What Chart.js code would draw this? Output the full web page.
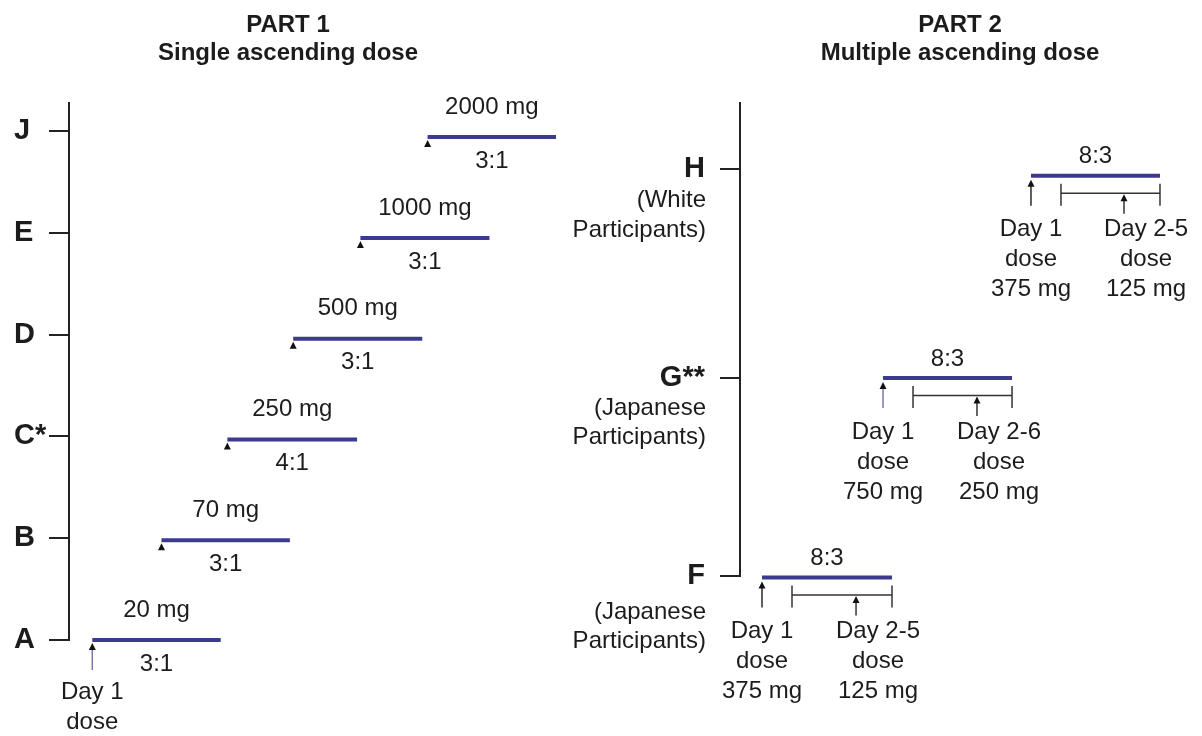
<!DOCTYPE html>
<html><head><meta charset="utf-8">
<script src="https://cdn.jsdelivr.net/npm/chart.js@4"></script>
<style>
html,body{margin:0;padding:0;background:#fff;}
#wrap{position:relative;width:1202px;height:736px;overflow:hidden;background:#fff;}
canvas{position:absolute;top:0;}
#c1{left:0;} #c2{left:560px;}
</style></head><body>
<div id="wrap"><canvas id="c1" width="600" height="736"></canvas><canvas id="c2" width="642" height="736"></canvas></div>
<script>
// ---------- Part 1: single ascending dose ----------
const p1Cohorts = ['A','B','C*','D','E','J'];
const p1TickY = [1, 2, 3, 4, 5, 6];
const p1BarY = [1.0, 1.98, 2.97, 3.96, 4.95, 5.94];
const p1Start = [0, 1.04, 2.03, 3.02, 4.03, 5.04];
const p1End = [1.93, 2.97, 3.98, 4.96, 5.97, 6.97];
const p1Dose = ['20 mg','70 mg','250 mg','500 mg','1000 mg','2000 mg'];
const p1Ratio = ['3:1','3:1','4:1','3:1','3:1','3:1'];
const p1Day1Note = [true, false, false, false, false, false];
const p1Day1Text = ['Day 1', 'dose'];

// ---------- Part 2: multiple ascending dose ----------
const p2Cohorts = ['F','G**','H'];
const p2Sub = [['(Japanese','Participants)'],['(Japanese','Participants)'],['(White','Participants)']];
const p2TickY = [1, 1.973, 3];
const p2BarY = [0.993, 1.973, 2.966];
const p2Start = [0, 1.82, 4.045];
const p2End = [1.955, 3.76, 5.985];
const p2MaintStart = [0.451, 2.271, 4.496];
const p2MaintArrow = [1.414, 3.233, 5.444];
const p2Ratio = ['8:3','8:3','8:3'];
const p2Day1Dose = ['375 mg','750 mg','375 mg'];
const p2MaintDays = ['Day 2-5','Day 2-6','Day 2-5'];
const p2MaintDose = ['125 mg','250 mg','125 mg'];

// ---------- styles ----------
const FF = '"Liberation Sans", Arial, Helvetica, sans-serif';
const TXT = '#1c1c1c';
const AX = '#222222';
const BAR = '#3c3a8e';
const SHAFT_PURPLE = '#7a75b5';
const SHAFT_DARK = '#2a2a2a';
const p2ShaftColor = [SHAFT_DARK, SHAFT_PURPLE, SHAFT_DARK];
const p2SubOffset = [[36, 65], [30, 59], [31, 61]];

function barSets(start, end, ys) {
  return start.map((s, i) => ({
    data: [{x: s, y: ys[i]}, {x: end[i], y: ys[i]}],
    showLine: true, borderColor: BAR, borderWidth: 4, pointRadius: 0,
    borderCapStyle: 'butt', clip: false, fill: false, tension: 0
  }));
}
function arrowHead(ctx, x, yTip, color) {
  ctx.fillStyle = color;
  ctx.beginPath();
  ctx.moveTo(x, yTip);
  ctx.lineTo(x - 3.5, yTip + 7);
  ctx.lineTo(x + 3.5, yTip + 7);
  ctx.closePath();
  ctx.fill();
}
function vline(ctx, x, y1, y2, color, w) {
  ctx.strokeStyle = color; ctx.lineWidth = w;
  ctx.beginPath(); ctx.moveTo(x, y1); ctx.lineTo(x, y2); ctx.stroke();
}
function hline(ctx, x1, x2, y, color, w) {
  ctx.strokeStyle = color; ctx.lineWidth = w;
  ctx.beginPath(); ctx.moveTo(x1, y); ctx.lineTo(x2, y); ctx.stroke();
}

const p1Deco = {
  id: 'p1deco',
  afterDatasetsDraw(chart) {
    const {ctx, scales: {x, y}} = chart;
    ctx.save();
    ctx.font = '24px ' + FF; ctx.textAlign = 'center'; ctx.textBaseline = 'middle';
    p1Cohorts.forEach((c, i) => {
      const xs = x.getPixelForValue(p1Start[i]);
      const xe = x.getPixelForValue(p1End[i]);
      const yy = y.getPixelForValue(p1BarY[i]);
      const xm = (xs + xe) / 2;
      ctx.fillStyle = TXT;
      ctx.fillText(p1Dose[i], xm, yy - 30);
      ctx.fillText(p1Ratio[i], xm, yy + 24);
      if (p1Day1Note[i]) {
        vline(ctx, xs, yy + 9, yy + 30, SHAFT_PURPLE, 1.5);
        ctx.fillStyle = TXT;
        ctx.fillText(p1Day1Text[0], xs, yy + 52);
        ctx.fillText(p1Day1Text[1], xs, yy + 82);
      }
      arrowHead(ctx, xs, yy + 3, '#111');
    });
    ctx.restore();
  }
};

const p2Deco = {
  id: 'p2deco',
  afterDatasetsDraw(chart) {
    const {ctx, scales: {x, y}, chartArea} = chart;
    ctx.save();
    ctx.font = '24px ' + FF; ctx.textBaseline = 'middle';
    p2Cohorts.forEach((c, i) => {
      // axis sub-labels
      const yt = y.getPixelForValue(p2TickY[i]);
      ctx.fillStyle = TXT; ctx.textAlign = 'right';
      ctx.fillText(p2Sub[i][0], chartArea.left - 34, yt + p2SubOffset[i][0]);
      ctx.fillText(p2Sub[i][1], chartArea.left - 34, yt + p2SubOffset[i][1]);

      const xs = x.getPixelForValue(p2Start[i]);
      const xe = x.getPixelForValue(p2End[i]);
      const xb = x.getPixelForValue(p2MaintStart[i]);
      const xa = x.getPixelForValue(p2MaintArrow[i]);
      const yy = y.getPixelForValue(p2BarY[i]);
      ctx.textAlign = 'center'; ctx.fillStyle = TXT;
      ctx.fillText(p2Ratio[i], (xs + xe) / 2, yy - 19);
      // day 1 arrow
      vline(ctx, xs, yy + 9, yy + 30, p2ShaftColor[i], 1.5);
      arrowHead(ctx, xs, yy + 4, '#111');
      // maintenance bracket
      const yb = yy + 17.5;
      hline(ctx, xb, xe, yb, '#333', 1.5);
      vline(ctx, xb, yy + 8, yy + 30, '#333', 1.5);
      vline(ctx, xe, yy + 8, yy + 30, '#333', 1.5);
      vline(ctx, xa, yb + 6, yy + 38, '#333', 1.5);
      arrowHead(ctx, xa, yb + 1, '#111');
      // texts
      ctx.fillStyle = TXT;
      ctx.fillText('Day 1', xs, yy + 54);
      ctx.fillText('dose', xs, yy + 84);
      ctx.fillText(p2Day1Dose[i], xs, yy + 114);
      ctx.fillText(p2MaintDays[i], xa + 22, yy + 54);
      ctx.fillText('dose', xa + 22, yy + 84);
      ctx.fillText(p2MaintDose[i], xa + 22, yy + 114);
    });
    ctx.restore();
  }
};

function yAxis(min, max, tickVals, labels, width, align, pad) {
  return {
    type: 'linear', min: min, max: max,
    afterBuildTicks: s => { s.ticks = tickVals.map(v => ({value: v})); },
    afterFit: s => { s.width = width; },
    border: {display: true, color: AX, width: 2},
    grid: {drawOnChartArea: false, drawTicks: true, tickLength: 20, color: AX, lineWidth: 2},
    ticks: {crossAlign: align, padding: pad, color: TXT, autoSkip: false,
      font: {family: FF, size: 29, weight: 'bold'},
      callback: (v, i) => labels[i]}
  };
}
function titleOpts(lines, fullSize) {
  return {display: true, fullSize: fullSize, text: lines, color: TXT,
    font: {family: FF, size: 24, weight: 'bold', lineHeight: 28 / 24},
    padding: {top: 11, bottom: 36}};
}

Chart.defaults.font.family = FF;

new Chart(document.getElementById('c1'), {
  type: 'scatter',
  data: {datasets: barSets(p1Start, p1End, p1BarY)},
  options: {
    responsive: false, animation: false, devicePixelRatio: 1,
    layout: {padding: {left: 14, right: 38, top: 0, bottom: 96}},
    plugins: {legend: {display: false}, tooltip: {enabled: false}, title: titleOpts(['PART 1', 'Single ascending dose'], true)},
    scales: {
      x: {type: 'linear', display: false, min: -0.35, max: 7.06},
      y: yAxis(1, 6.275, p1TickY, p1Cohorts, 55, 'far', 0)
    }
  },
  plugins: [p1Deco]
});

new Chart(document.getElementById('c2'), {
  type: 'scatter',
  data: {datasets: barSets(p2Start, p2End, p2BarY)},
  options: {
    responsive: false, animation: false, devicePixelRatio: 1,
    layout: {padding: {left: 10, right: 22, top: 0, bottom: 160}},
    plugins: {legend: {display: false}, tooltip: {enabled: false}, title: titleOpts(['PART 2', 'Multiple ascending dose'], false)},
    scales: {
      x: {type: 'linear', display: false, min: -0.331, max: 6.286},
      y: yAxis(1, 3.324, p2TickY, p2Cohorts, 170, 'near', 15)
    }
  },
  plugins: [p2Deco]
});
</script>
</body></html>
